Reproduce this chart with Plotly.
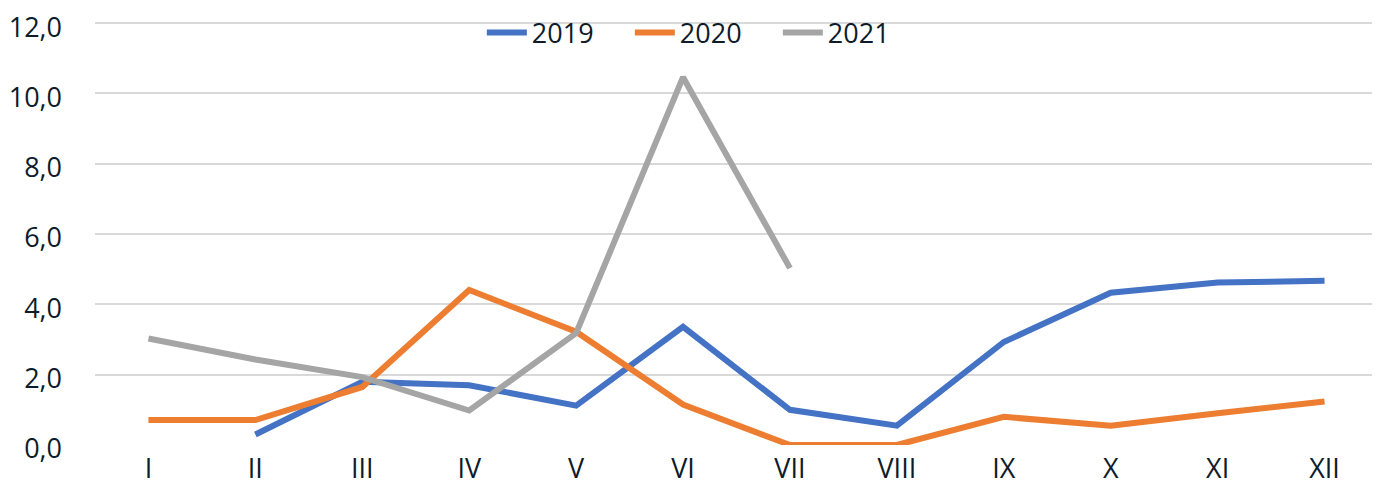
import plotly.graph_objects as go

meses = ['I', 'II', 'III', 'IV', 'V', 'VI', 'VII', 'VIII', 'IX', 'X', 'XI', 'XII']
valores_2019 = [None, 0.3, 1.8, 1.7, 1.12, 3.36, 1.0, 0.55, 2.93, 4.33, 4.62, 4.67]
valores_2020 = [0.71, 0.71, 1.65, 4.41, 3.22, 1.15, 0.0, 0.0, 0.8, 0.55, 0.9, 1.24]
valores_2021 = [3.03, 2.43, 1.93, 0.98, 3.18, 10.46, 5.03]

series = [
    ('2019', valores_2019, '#4472C4'),
    ('2020', valores_2020, '#ED7D31'),
    ('2021', valores_2021, '#A5A5A5'),
]

fig = go.Figure()

for nome, valores, cor in series:
    fig.add_trace(go.Scatter(
        x=meses[:len(valores)],
        y=valores,
        mode='lines',
        name=nome,
        line=dict(color=cor, width=6),
        connectgaps=False
    ))

# a página tem margem de 8px no body, por isso a figura é 1372x490
fig.update_layout(
    width=1372,
    height=490,
    plot_bgcolor='white',
    paper_bgcolor='white',
    separators=', ',
    font=dict(family='Open Sans, Liberation Sans, sans-serif', size=27, color='#0d1b2a'),
    margin=dict(l=87, r=1.5, t=14, b=53, autoexpand=False),
    showlegend=True,
    legend=dict(
        orientation='h',
        x=0.3015, xanchor='left',
        y=0.974, yanchor='middle',
        bgcolor='rgba(0,0,0,0)',
        font=dict(size=27, color='#0d1b2a'),
        itemwidth=40,
        entrywidth=93,
        tracegroupgap=0
    ),
    xaxis=dict(
        type='category',
        categoryorder='array',
        categoryarray=meses,
        range=[-0.5, 11.5],
        automargin=False,
        showgrid=False,
        showline=False,
        zeroline=False,
        ticks='',
        ticklabelstandoff=5,
        tickfont=dict(size=27, color='#0d1b2a')
    ),
    yaxis=dict(
        range=[0, 12.03],
        dtick=2,
        tickformat='.1f',
        automargin=False,
        ticklabeloverflow='allow',
        ticklabelshift=4,
        showgrid=True,
        gridcolor='#d9d9d9',
        gridwidth=1.5,
        zeroline=False,
        showline=False,
        ticks='',
        ticklabelstandoff=32,
        tickfont=dict(size=27, color='#0d1b2a')
    )
)

fig.write_html('out.html')
